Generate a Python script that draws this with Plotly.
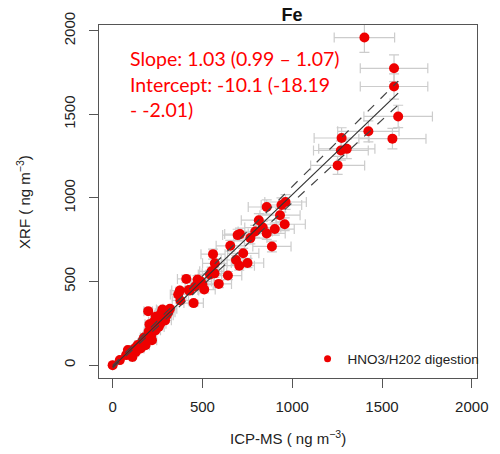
import plotly.graph_objects as go

# ICP-MS (x) vs XRF (y) Fe concentrations, ng m^-3
icp = [1402, 1567, 1567, 1590, 1424, 1558, 1275, 1271, 1304, 1253,
       963, 940, 858, 932, 814, 958, 836, 903, 794, 858, 709, 696, 767, 887, 655,
       727, 559, 687, 751, 569, 705, 551, 567, 542, 642,
       410, 473, 491, 500, 591, 459, 510, 424, 374, 365, 377, 451, 428,
       0, 40, 75, 92, 110, 129, 147, 165, 183, 201, 210, 228, 247, 265, 283,
       198, 283, 256, 292, 310, 183, 129, 110, 156, 219, 238, 265, 301, 319, 277,
       100, 120, 140, 160, 170, 190, 200, 220, 230, 250, 260, 270, 240, 150, 135,
       85, 175, 215, 245, 205, 180]
xrf = [1960, 1776, 1667, 1488, 1399, 1355, 1359, 1284, 1294, 1195,
       976, 958, 946, 897, 867, 843, 823, 814, 800, 788, 784, 778, 760, 710, 714,
       669, 664, 629, 611, 609, 595, 561, 549, 542, 536,
       516, 512, 500, 482, 486, 470, 452, 450, 446, 423, 387, 371, 446,
       0, 30, 60, 73, 89, 103, 113, 139, 159, 188, 228, 258, 272, 298, 327,
       323, 288, 228, 268, 317, 119, 79, 49, 99, 149, 208, 248, 298, 337, 333,
       80, 95, 120, 130, 150, 170, 200, 220, 240, 260, 280, 310, 290, 120, 110,
       90, 165, 180, 235, 245, 140]

fit_x = [0, 1590]
slope, intercept = 1.03, -10.1
lo_slope, lo_int = 0.99, -18.19
hi_slope, hi_int = 1.07, -2.01

tick_vals = [0, 500, 1000, 1500, 2000]
tick_text = ["0", "500", "1000", "1500", "2000"]

fig = go.Figure()
fig.add_trace(go.Scatter(
    x=icp, y=xrf, mode="markers", name="HNO3/H202 digestion",
    marker=dict(color="#ee0000", size=10, line=dict(width=0)),
    error_x=dict(type="percent", value=12, color="#cccccc", thickness=1.2, width=5),
    error_y=dict(type="percent", value=4.5, color="#cccccc", thickness=1.2, width=5),
    showlegend=False,
))
fig.add_trace(go.Scatter(x=fit_x, y=[slope * v + intercept for v in fit_x], mode="lines",
                         line=dict(color="#333333", width=1.2), showlegend=False))
fig.add_trace(go.Scatter(x=fit_x, y=[lo_slope * v + lo_int for v in fit_x], mode="lines",
                         line=dict(color="#444444", width=1.2, dash="dash"), showlegend=False))
fig.add_trace(go.Scatter(x=fit_x, y=[hi_slope * v + hi_int for v in fit_x], mode="lines",
                         line=dict(color="#444444", width=1.2, dash="dash"), showlegend=False))
fig.add_trace(go.Scatter(x=[None], y=[None], mode="markers", name="HNO3/H202 digestion",
                         marker=dict(color="#ee0000", size=7), showlegend=True))

axis_common = dict(
    showgrid=False, zeroline=False, showline=True, mirror=True, linecolor="#555555", linewidth=1,
    ticks="outside", ticklen=9, tickcolor="#555555", tickwidth=1,
    tickvals=tick_vals, ticktext=tick_text,
    tickfont=dict(family="Liberation Sans, Arial", size=15, color="#222222"),
)
fig.update_xaxes(range=[-76, 2029], ticklabelstandoff=6, **axis_common)
fig.update_yaxes(range=[-77, 2035], tickangle=-90, ticklabelstandoff=8, **axis_common)

red_font = dict(family="Lato, Carlito, sans-serif", size=19.5, color="#ff0000")
lines = ["Slope: 1.03 (0.99 \u2013 1.07)", "Intercept: -10.1 (-18.19", "- -2.01)"]
ys = [0.904, 0.831, 0.761]
for t, yy in zip(lines, ys):
    fig.add_annotation(text=t, xref="paper", yref="paper", x=0.0775, y=yy,
                       xanchor="left", yanchor="middle", showarrow=False, font=red_font)

fig.add_annotation(text="ICP-MS ( ng m<sup>\u22123</sup>)", xref="paper", yref="paper",
                   x=0.5, y=-0.168, xanchor="center", yanchor="middle", showarrow=False,
                   font=dict(family="Liberation Sans, Arial", size=15, color="#222222"))
fig.add_annotation(text="XRF ( ng m<sup>\u22123</sup>)", xref="paper", yref="paper",
                   x=-0.2, y=0.5, xanchor="center", yanchor="middle", showarrow=False, textangle=-90,
                   font=dict(family="Liberation Sans, Arial", size=15, color="#222222"))

fig.update_layout(
    width=500, height=454,
    margin=dict(l=99, r=14, t=23, b=76),
    plot_bgcolor="white", paper_bgcolor="white",
    title=dict(text="<b>Fe</b>", x=0.584, xanchor="center", y=0.967, yanchor="middle",
               yref="container", font=dict(family="Liberation Sans, Arial", size=18, color="#111111")),
    legend=dict(x=1.02, xanchor="right", y=0.01, yanchor="bottom", bgcolor="rgba(0,0,0,0)",
                font=dict(family="Liberation Sans, Arial", size=13.5, color="#222222"),
                itemwidth=30),
)

fig.write_html("out.html")
